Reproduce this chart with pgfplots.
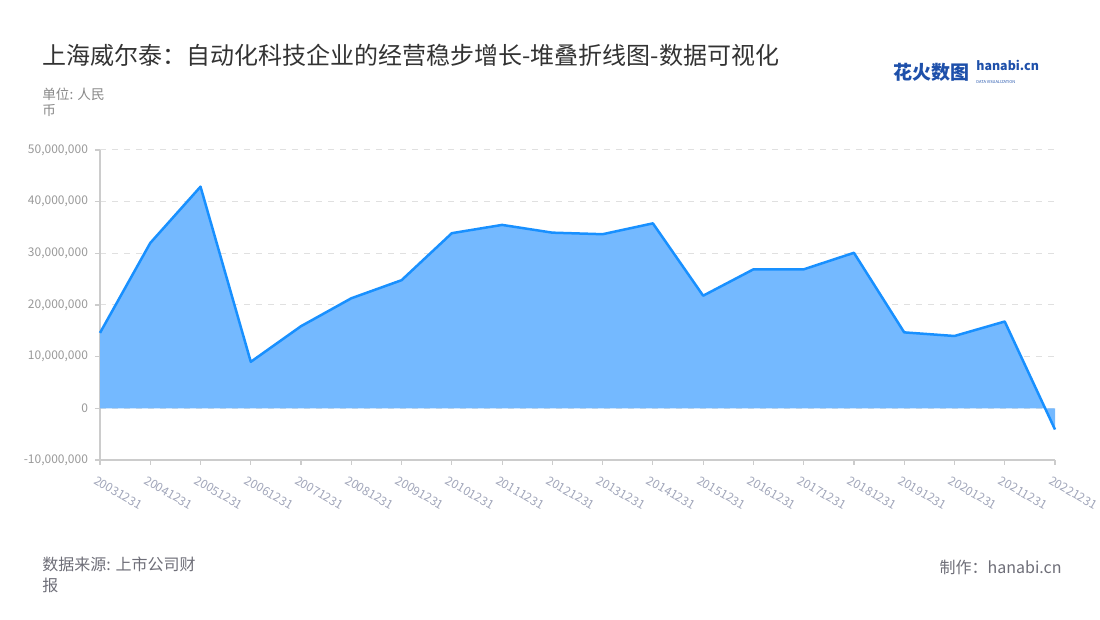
\documentclass[border=0pt]{standalone}
\usepackage{pgfplots}
\pgfplotsset{compat=1.18}
\usepackage{fontspec}
\setmainfont{Noto Sans CJK SC}
\definecolor{areablue}{RGB}{116,185,255}
\definecolor{lineblue}{RGB}{24,144,255}
\definecolor{axisgray}{RGB}{204,204,204}
\definecolor{gridgray}{RGB}{224,224,224}
\definecolor{ticktext}{RGB}{153,153,153}
\definecolor{xlabtext}{RGB}{160,165,185}
\definecolor{titletext}{RGB}{51,51,51}
\definecolor{subtext}{RGB}{136,136,136}
\definecolor{foottext}{RGB}{110,110,120}
\definecolor{logoblue}{RGB}{30,80,170}

\pgfplotstableread{
idx value
0 14600000
1 32000000
2 42900000
3 9000000
4 15900000
5 21300000
6 24800000
7 33900000
8 35500000
9 34000000
10 33700000
11 35800000
12 21800000
13 26900000
14 26900000
15 30100000
16 14700000
17 14000000
18 16800000
19 -4100000
}\profit

\begin{document}
\begin{tikzpicture}
% page frame: 1100 x 620 px at 0.5pt per px
\path[use as bounding box] (0,0) rectangle (550pt,310pt);

\node[anchor=west, text=titletext, font=\fontsize{12pt}{14pt}\selectfont, inner sep=0]
  at (21pt,282.5pt) {上海威尔泰：自动化科技企业的经营稳步增长-堆叠折线图-数据可视化};
\node[anchor=north west, align=left, text=subtext, font=\fontsize{6.8pt}{8pt}\selectfont, inner sep=0]
  at (21pt,266pt) {单位: 人民\\币};

% logo
\node[anchor=west, text=logoblue, font=\fontsize{9.5pt}{10pt}\selectfont\bfseries, inner sep=0]
  at (446.5pt,274pt) {花火数图};
\node[anchor=west, text=logoblue, font=\fontsize{6.2pt}{7pt}\selectfont\bfseries, inner sep=0]
  at (488pt,277.5pt) {hanabi.cn};
\node[anchor=west, text=logoblue, font=\fontsize{2pt}{3pt}\selectfont, inner sep=0]
  at (488pt,269pt) {DATA VISUALIZATION};

\begin{axis}[
    at={(50pt,80pt)}, anchor=south west,
    scale only axis,
    width=477.5pt, height=155pt,
    xmin=0, xmax=19,
    ymin=-10000000, ymax=50000000,
    scaled y ticks=false,
    axis x line=bottom, axis y line=left,
    axis line style={-, axisgray, line width=0.75pt},
    tick align=outside,
    major tick length=2.5pt,
    tick style={axisgray, line width=0.6pt},
    xtick={0,...,19},
    xticklabels={20031231,20041231,20051231,20061231,20071231,20081231,20091231,20101231,20111231,20121231,20131231,20141231,20151231,20161231,20171231,20181231,20191231,20201231,20211231,20221231},
    x tick label style={rotate=-30, anchor=north west, text=xlabtext,
      font=\fontsize{6pt}{7pt}\selectfont, inner sep=0.5pt, xshift=0.8pt, yshift=-4.5pt},
    ytick={-10000000,0,10000000,20000000,30000000,40000000,50000000},
    yticklabels={{-10,000,000},{0},{10,000,000},{20,000,000},{30,000,000},{40,000,000},{50,000,000}},
    y tick label style={text=ticktext, font=\fontsize{6pt}{7pt}\selectfont},
    /pgf/number format/assume math mode=true,
    ymajorgrids=true,
    grid style={gridgray, dashed, line width=0.5pt},
    clip=false,
  ]
  \addplot[draw=none, fill=areablue] table[x=idx, y=value] {\profit} \closedcycle;
  \addplot[lineblue, line width=1.25pt, line join=round] table[x=idx, y=value] {\profit};
\end{axis}

\node[anchor=north west, align=left, text=foottext, font=\fontsize{8pt}{10.5pt}\selectfont, inner sep=0]
  at (21pt,31.5pt) {数据来源: 上市公司财\\报};
\node[anchor=east, text=foottext, font=\fontsize{8pt}{9pt}\selectfont, inner sep=0]
  at (531pt,26.5pt) {制作：hanabi.cn};
\end{tikzpicture}
\end{document}
